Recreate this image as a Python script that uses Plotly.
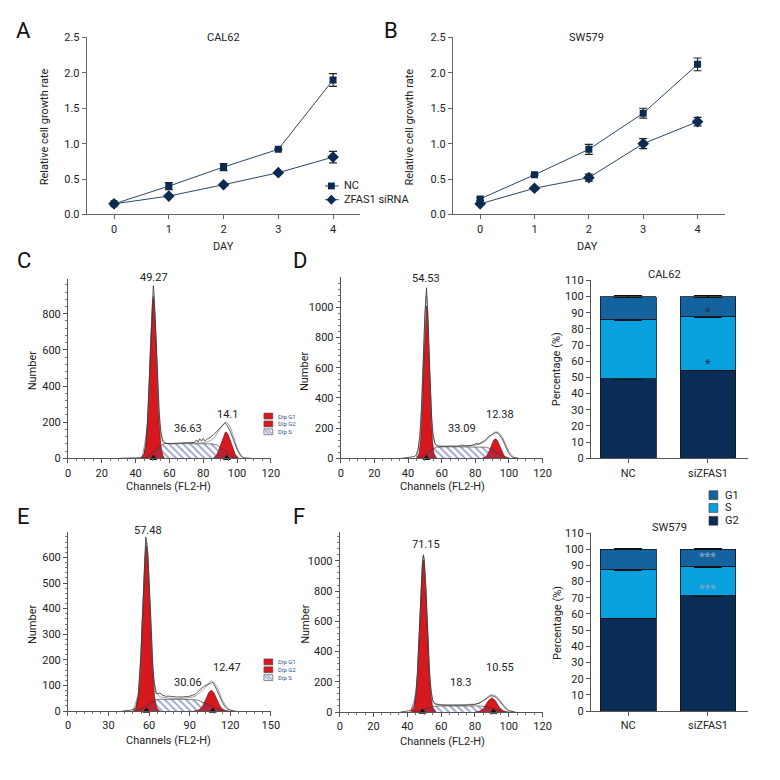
import plotly.graph_objects as go

# ------------------------------------------------------------------ data
days = [0, 1, 2, 3, 4]
growth_yticks = [0.0, 0.5, 1.0, 1.5, 2.0, 2.5]

cal62_nc = [0.15, 0.40, 0.67, 0.92, 1.90]
cal62_nc_err = [0.01, 0.05, 0.05, 0.01, 0.09]
cal62_si = [0.15, 0.26, 0.42, 0.59, 0.81]
cal62_si_err = [0.01, 0.01, 0.01, 0.01, 0.08]

sw579_nc = [0.22, 0.56, 0.92, 1.43, 2.12]
sw579_nc_err = [0.02, 0.01, 0.07, 0.07, 0.09]
sw579_si = [0.15, 0.37, 0.52, 1.00, 1.31]
sw579_si_err = [0.01, 0.01, 0.05, 0.07, 0.06]

groups = ["NC", "siZFAS1"]
cal62_g2 = [49.27, 54.53]
cal62_s = [36.63, 33.09]
cal62_g1 = [14.10, 12.38]
cal62_err = [0.4, 0.4]
sw579_g2 = [57.48, 71.15]
sw579_s = [30.06, 18.30]
sw579_g1 = [12.47, 10.55]
sw579_err = [0.4, 0.4]

# flow-cytometry histograms (channel, count)
c_g1_ch = [43, 45, 46, 47, 48, 49, 50, 50.5, 51, 52, 53, 54, 55, 56, 57]
c_g1_ct = [0, 20, 70, 190, 410, 670, 860, 890, 860, 670, 410, 190, 70, 20, 0]
c_g2_ch = [86, 88, 89, 90, 91, 92, 93, 93.5, 94, 95, 96, 97, 98, 99, 101]
c_g2_ct = [0, 21, 40, 66, 97, 126, 143, 145, 143, 126, 97, 66, 40, 21, 0]
c_s_ch = [45, 48, 51, 54, 56, 58, 65, 75, 85, 88, 91, 94, 97, 100]
c_s_ct = [0, 15, 40, 65, 78, 82, 82, 82, 80, 75, 55, 30, 12, 0]
c_out_ch = [30, 36, 40, 43, 45, 46, 47, 48, 49, 50, 50.5, 51, 52, 53, 54, 55, 56, 57, 58, 60, 64,
            68, 72, 75, 76, 77, 78, 79, 80, 81, 82, 84, 86, 88, 90, 91, 92, 93, 94, 95, 96, 98,
            100, 102, 104, 108]
c_out_ct = [0, 2, 1, 3, 25, 75, 200, 430, 700, 900, 955, 900, 700, 450, 250, 140, 95, 85, 82, 82, 83,
            84, 86, 88, 102, 90, 108, 95, 110, 96, 105, 115, 130, 150, 168, 178, 190, 195, 185, 170,
            150, 100, 50, 15, 3, 0]
c_fit_ch = [44, 47, 49, 50.5, 52, 54, 56, 58, 70, 82, 86, 89, 91, 93.5, 96, 98, 100, 103]
c_fit_ct = [10, 190, 680, 900, 680, 220, 110, 85, 84, 90, 110, 150, 180, 200, 170, 120, 60, 8]
c_peaks = [50.5, 94]
c_labels = ["49.27", "36.63", "14.1"]

d_g1_ch = [45, 46.5, 47.5, 48.5, 49.5, 50.5, 51, 51.5, 52.5, 53.5, 54.5, 55.5, 57]
d_g1_ct = [0, 30, 120, 343, 680, 967, 1010, 967, 680, 343, 120, 30, 0]
d_g2_ch = [84, 86, 87, 88, 89, 90, 91, 92, 93, 94, 95, 96, 97, 98, 100]
d_g2_ct = [0, 9, 20, 40, 67, 97, 121, 130, 121, 97, 67, 40, 20, 9, 0]
d_s_ch = [46, 49, 52, 55, 57, 60, 70, 80, 86, 89, 92, 95, 98, 101]
d_s_ct = [0, 15, 40, 65, 74, 76, 76, 76, 74, 65, 45, 22, 8, 0]
d_out_ch = [36, 40, 42, 44, 45, 46, 47, 48, 49, 50, 51, 52, 53, 54, 55, 56, 57, 58, 60, 65, 70, 72,
            74, 76, 78, 80, 81, 82, 83, 84, 86, 88, 90, 91, 92, 93, 94, 96, 98, 100, 102, 106]
d_out_ct = [0, 4, 6, 12, 25, 60, 150, 330, 620, 950, 1130, 900, 560, 280, 150, 100, 85, 80, 80, 80,
            82, 88, 83, 85, 86, 95, 100, 95, 100, 105, 120, 145, 160, 168, 170, 168, 160, 130, 80,
            30, 8, 0]
d_fit_ch = [45, 47, 49, 51, 53, 55, 57, 60, 75, 84, 87, 90, 92, 94, 96, 98, 100, 103]
d_fit_ct = [10, 130, 640, 1080, 540, 140, 85, 80, 82, 100, 125, 160, 175, 170, 140, 95, 45, 5]
d_peaks = [51]
d_labels = ["54.53", "33.09", "12.38"]

e_g1_ch = [48, 50, 52, 54, 55, 56, 57, 58, 59, 60, 61, 62, 64, 66, 68]
e_g1_ct = [0, 8, 55, 215, 348, 490, 602, 645, 602, 490, 348, 215, 55, 8, 0]
e_g2_ch = [93, 96, 98, 100, 102, 104, 106, 108, 110, 112, 114, 116, 119]
e_g2_ct = [0, 3, 9, 24, 47, 71, 82, 71, 47, 24, 9, 3, 0]
e_s_ch = [50, 54, 58, 62, 65, 68, 80, 92, 96, 100, 104, 108, 112, 116]
e_s_ct = [0, 8, 20, 35, 44, 46, 46, 45, 42, 35, 25, 14, 6, 0]
e_out_ch = [40, 46, 50, 52, 54, 55, 56, 57, 57.5, 58, 59, 60, 61, 62, 63, 64, 65, 66, 68, 70, 72, 75,
            80, 85, 90, 94, 96, 98, 100, 102, 104, 106, 107, 108, 110, 112, 114, 116, 118, 120, 124]
e_out_ct = [0, 3, 10, 60, 230, 360, 500, 630, 680, 670, 620, 510, 370, 240, 150, 100, 70, 68, 70, 62,
            58, 58, 55, 55, 58, 65, 75, 85, 95, 100, 105, 110, 112, 105, 85, 60, 35, 18, 8, 3, 0]
e_fit_ch = [48, 52, 55, 58, 61, 64, 67, 72, 85, 94, 98, 102, 106, 110, 114, 118, 122]
e_fit_ct = [3, 70, 370, 660, 380, 110, 60, 52, 50, 58, 75, 95, 118, 95, 45, 12, 0]
e_peaks = [58, 107]
e_labels = ["57.48", "30.06", "12.47"]

f_g1_ch = [42, 44, 45, 46, 47, 48, 49, 49.5, 50, 51, 52, 53, 54, 55, 57]
f_g1_ct = [0, 32, 101, 251, 494, 779, 977, 1005, 977, 779, 494, 251, 101, 32, 0]
f_g2_ch = [80, 83, 85, 86, 88, 90, 92, 94, 95, 97, 100]
f_g2_ct = [0, 6, 24, 39, 76, 95, 76, 39, 24, 6, 0]
f_s_ch = [44, 48, 52, 55, 58, 65, 75, 83, 87, 90, 94, 98]
f_s_ct = [0, 10, 25, 35, 40, 40, 40, 40, 35, 25, 10, 0]
f_out_ch = [36, 40, 42, 44, 45, 46, 47, 48, 49, 49.5, 50, 51, 52, 53, 54, 55, 56, 58, 62, 66, 70, 75,
            80, 83, 85, 87, 88, 89, 90, 91, 92, 94, 96, 98, 100, 104]
f_out_ct = [0, 4, 10, 45, 120, 270, 510, 800, 1000, 1040, 1010, 820, 530, 290, 140, 75, 55, 48, 45,
            45, 44, 45, 50, 60, 75, 90, 100, 105, 108, 105, 100, 80, 50, 25, 8, 0]
f_fit_ch = [42, 45, 47, 49.5, 52, 54, 56, 60, 75, 82, 86, 88, 90, 92, 94, 97, 100, 103]
f_fit_ct = [5, 130, 520, 1030, 540, 150, 62, 50, 50, 58, 85, 105, 115, 108, 88, 45, 12, 0]
f_peaks = [49, 91]
f_labels = ["71.15", "18.3", "10.55"]

# ------------------------------------------------------------------ style
W = H = 780
FONT = "Roboto, Liberation Sans Narrow, Arial Narrow, sans-serif"
FS = 11
TXT = "#222222"
NAVY = "#0c2b52"
RED = "#d7191f"
C_G2 = "#0a2d55"
C_S = "#08a0df"
C_G1 = "#14639e"


def fx(p):
    return p / W


def fy(p):
    return 1 - p / H


def ax_name(n, kind):
    return kind if n == 1 else f"{kind}{n}"


fig = go.Figure()
annotations = []
shapes = []


def ann(text, x, y, size=FS, angle=0, color=TXT, xanchor="center"):
    annotations.append(dict(text=text, x=fx(x), y=fy(y), xref="paper", yref="paper",
                            showarrow=False, textangle=angle, xanchor=xanchor, yanchor="middle",
                            font=dict(size=size, family=FONT, color=color)))


base_axis = dict(showgrid=False, zeroline=False, showline=True, linewidth=1, ticks="outside",
                 tickfont=dict(size=FS, family=FONT, color=TXT))
layout_axes = {}


def set_axes(n, xdom, ydom, xa, ya):
    x = dict(base_axis, domain=[fx(xdom[0]), fx(xdom[1])], anchor=ax_name(n, "y"))
    x.update(xa)
    y = dict(base_axis, domain=[fy(ydom[1]), fy(ydom[0])], anchor=ax_name(n, "x"))
    y.update(ya)
    layout_axes[ax_name(n, "xaxis")] = x
    layout_axes[ax_name(n, "yaxis")] = y


# ---------------------------------------------------------- growth curves
def growth_panel(n, nc, nc_err, si, si_err):
    xa, ya = ax_name(n, "x"), ax_name(n, "y")
    for vals, err, sym, size in [(nc, nc_err, "square", 7), (si, si_err, "diamond", 9)]:
        fig.add_trace(go.Scatter(
            x=days, y=vals, xaxis=xa, yaxis=ya, mode="lines+markers", showlegend=False,
            line=dict(color="#2b4668", width=1),
            marker=dict(symbol=sym, size=size, color=NAVY),
            error_y=dict(type="data", array=err, visible=True, color="#222", thickness=1.2, width=4)))
    lineax = dict(linecolor="#666", tickcolor="#666", ticklen=4)
    set_axes(n, (85, 363) if n == 1 else (457, 733), (32, 212),
             dict(lineax, range=[-0.5, 4.5], tickvals=days),
             dict(lineax, range=[0, 2.5], tickvals=growth_yticks, tickformat=".1f"))


growth_panel(1, cal62_nc, cal62_nc_err, cal62_si, cal62_si_err)
growth_panel(2, sw579_nc, sw579_nc_err, sw579_si, sw579_si_err)

ann("CAL62", 224, 32)
ann("SW579", 593, 32)
ann("DAY", 224, 245)
ann("DAY", 594, 245)
ann("Relative cell growth rate", 43, 123, angle=-90)
ann("Relative cell growth rate", 413, 123, angle=-90)

# legend of panel A
for yy, sym, label in [(183, "square", "NC"), (197, "diamond", "ZFAS1 siRNA")]:
    shapes.append(dict(type="line", xref="paper", yref="paper", x0=fx(327), x1=fx(341),
                       y0=fy(yy), y1=fy(yy), line=dict(color="#2b4668", width=1)))
    if sym == "square":
        shapes.append(dict(type="rect", xref="paper", yref="paper", x0=fx(330), x1=fx(337),
                           y0=fy(yy + 3.5), y1=fy(yy - 3.5), fillcolor=NAVY, line=dict(width=0)))
    else:
        path = (f"M {fx(333.5)} {fy(yy - 5)} L {fx(338.5)} {fy(yy)} L {fx(333.5)} {fy(yy + 5)} "
                f"L {fx(328.5)} {fy(yy)} Z")
        shapes.append(dict(type="path", xref="paper", yref="paper", path=path,
                           fillcolor=NAVY, line=dict(width=0)))
    ann(label, 344, yy, xanchor="left")


# ------------------------------------------------------------ histograms
def hist_panel(n, xdom, ydom, xmax, xdtick, xminor, ymax, ydtick, yminor,
               g1, g2, s, out, fit, peaks):
    xa, ya = ax_name(n, "x"), ax_name(n, "y")
    for ch, ct in (g1, g2):
        fig.add_trace(go.Scatter(x=ch, y=ct, xaxis=xa, yaxis=ya, mode="lines", fill="tozeroy",
                                 fillcolor=RED, line=dict(color="#5a0c0c", width=0.6),
                                 showlegend=False))
    fig.add_trace(go.Scatter(x=s[0], y=s[1], xaxis=xa, yaxis=ya, mode="lines", fill="tozeroy",
                             fillcolor="rgba(0,0,0,0)", line=dict(color="#333", width=0.6),
                             fillpattern=dict(shape="\\", fgcolor="#3d4f9a", bgcolor="rgba(0,0,0,0)",
                                              fillmode="overlay", size=5, solidity=0.4),
                             showlegend=False))
    fig.add_trace(go.Scatter(x=fit[0], y=fit[1], xaxis=xa, yaxis=ya, mode="lines",
                             line=dict(color="#777", width=0.7, shape="spline"), showlegend=False))
    fig.add_trace(go.Scatter(x=out[0], y=out[1], xaxis=xa, yaxis=ya, mode="lines",
                             line=dict(color="#333", width=0.8), showlegend=False))
    fig.add_trace(go.Scatter(x=peaks, y=[0] * len(peaks), xaxis=xa, yaxis=ya, mode="markers",
                             marker=dict(symbol="triangle-up", size=7, color="#111"),
                             cliponaxis=False, showlegend=False))
    hax = dict(linecolor="#555", tickcolor="#555", ticklen=4)
    set_axes(n, xdom, ydom,
             dict(hax, range=[0, xmax], dtick=xdtick, tick0=0,
                  minor=dict(dtick=xminor, ticklen=2, tickcolor="#777", ticks="outside")),
             dict(hax, range=[0, ymax], dtick=ydtick, tick0=0,
                  minor=dict(dtick=yminor, ticklen=2, tickcolor="#777", ticks="outside")))


hist_panel(3, (66, 272), (278, 460), 120, 20, 5, 990, 200, 40,
           (c_g1_ch, c_g1_ct), (c_g2_ch, c_g2_ct), (c_s_ch, c_s_ct), (c_out_ch, c_out_ct),
           (c_fit_ch, c_fit_ct), c_peaks)
hist_panel(4, (343, 548), (276, 460), 120, 20, 5, 1199, 200, 40,
           (d_g1_ch, d_g1_ct), (d_g2_ch, d_g2_ct), (d_s_ch, d_s_ct), (d_out_ch, d_out_ct),
           (d_fit_ch, d_fit_ct), d_peaks)
hist_panel(6, (66, 272), (535, 717), 150, 30, 6, 699, 100, 20,
           (e_g1_ch, e_g1_ct), (e_g2_ch, e_g2_ct), (e_s_ch, e_s_ct), (e_out_ch, e_out_ct),
           (e_fit_ch, e_fit_ct), e_peaks)
hist_panel(7, (342, 548), (535, 718), 120, 20, 5, 1190, 200, 40,
           (f_g1_ch, f_g1_ct), (f_g2_ch, f_g2_ct), (f_s_ch, f_s_ct), (f_out_ch, f_out_ct),
           (f_fit_ch, f_fit_ct), f_peaks)

for labels, pos in [(c_labels, [(153, 276), (188, 430), (228, 415)]),
                    (d_labels, [(430, 277), (466, 430), (505, 415)]),
                    (e_labels, [(147, 533), (188, 688), (228, 673)]),
                    (f_labels, [(430, 548), (465, 688), (505, 673)])]:
    for t, (x, y) in zip(labels, pos):
        ann(t, x, y)

ann("Number", 30, 371, angle=-90)
ann("Number", 307, 371, angle=-90)
ann("Number", 30, 629, angle=-90)
ann("Number", 307, 628, angle=-90)
ann("Channels (FL2-H)", 168, 489)
ann("Channels (FL2-H)", 446, 489)
ann("Channels (FL2-H)", 168, 747)
ann("Channels (FL2-H)", 446, 748)

# small "Dip" legends
for ytop in (414, 664):
    for i, lab in enumerate(["Dip G1", "Dip G2", "Dip S"]):
        y0 = ytop + i * 8
        if i < 2:
            shapes.append(dict(type="rect", xref="paper", yref="paper", x0=fx(265), x1=fx(274),
                               y0=fy(y0 + 6), y1=fy(y0), fillcolor=RED,
                               line=dict(color="#444", width=0.6)))
        else:
            shapes.append(dict(type="rect", xref="paper", yref="paper", x0=fx(265), x1=fx(274),
                               y0=fy(y0 + 6), y1=fy(y0), fillcolor="#e4e8f4",
                               line=dict(color="#444", width=0.6)))
            path = (f"M {fx(266)} {fy(y0 + 1)} L {fx(270)} {fy(y0 + 5)} "
                    f"M {fx(269)} {fy(y0 + 1)} L {fx(273)} {fy(y0 + 5)}")
            shapes.append(dict(type="path", xref="paper", yref="paper", path=path,
                               line=dict(color="#4b5d9e", width=0.7)))
        ann(lab, 277, y0 + 3, size=6, color="#1f4e8c", xanchor="left")


# ------------------------------------------------------------- stacked bars
def bar_panel(n, ydom, g2, s, g1, err):
    xa, ya = ax_name(n, "x"), ax_name(n, "y")
    for vals, col in [(g2, C_G2), (s, C_S), (g1, C_G1)]:
        fig.add_trace(go.Bar(x=groups, y=vals, xaxis=xa, yaxis=ya, width=0.7,
                             marker=dict(color=col, line=dict(color="#111", width=0.8)),
                             error_y=dict(type="data", array=err, visible=True, color="#111",
                                          thickness=1.2, width=14),
                             showlegend=False))
    bax = dict(linecolor="#555", tickcolor="#555", ticklen=4)
    set_axes(n, (597, 757), ydom,
             dict(bax, range=[-0.469, 1.506]),
             dict(bax, range=[0, 110], dtick=10, tick0=0))


bar_panel(5, (279, 460), cal62_g2, cal62_s, cal62_g1, cal62_err)
bar_panel(8, (536, 717), sw579_g2, sw579_s, sw579_g1, sw579_err)

ann("CAL62", 672, 273)
ann("SW579", 677, 530)
ann("Percentage (%)", 563, 369, angle=-90)
ann("Percentage (%)", 563, 627, angle=-90)

for n, star, ys, col in [(5, "*", [58.5, 90.5], "#1b3350"), (8, "***", [76, 95.5], "#86a6c6")]:
    for yv in ys:
        annotations.append(dict(text=star, x="siZFAS1", y=yv, xref=ax_name(n, "x"),
                                yref=ax_name(n, "y"), showarrow=False,
                                font=dict(size=13, family=FONT, color=col)))

for i, (lab, col) in enumerate([("G1", C_G1), ("S", C_S), ("G2", C_G2)]):
    y0 = 493 + i * 13
    shapes.append(dict(type="rect", xref="paper", yref="paper", x0=fx(717), x1=fx(726),
                       y0=fy(y0 + 9), y1=fy(y0), fillcolor=col, line=dict(color="#333", width=0.6)))
    ann(lab, 731, y0 + 4.5, xanchor="left")

# panel letters
for lab, x, y in [("A", 21, 25), ("B", 394, 25), ("C", 21, 259), ("D", 302, 259),
                  ("E", 21, 519), ("F", 301, 519)]:
    ann(lab, x, y, size=22, color="#111")

fig.update_layout(width=W, height=H, margin=dict(l=0, r=0, t=0, b=0),
                  paper_bgcolor="white", plot_bgcolor="white", barmode="stack",
                  font=dict(family=FONT, size=FS, color=TXT), showlegend=False,
                  annotations=annotations, shapes=shapes, **layout_axes)

fig.write_html("out.html", config={"displayModeBar": False},
               post_script="document.body.style.margin='0';document.body.style.padding='0';")
